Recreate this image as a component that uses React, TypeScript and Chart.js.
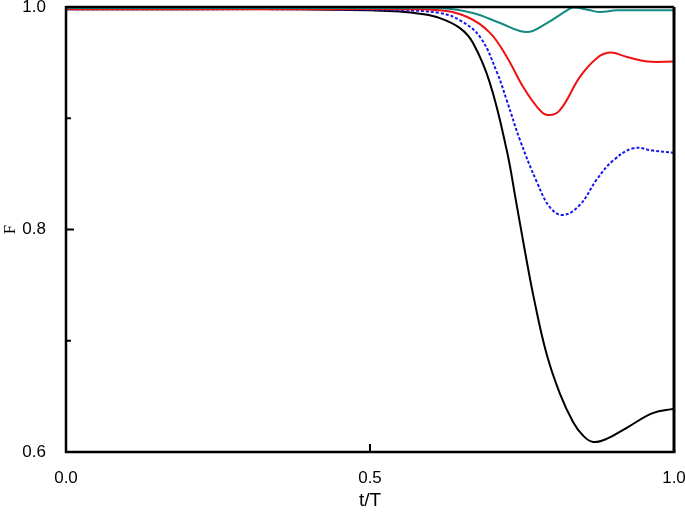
import React, { useEffect, useRef } from "react";
import { Chart, registerables } from "chart.js";

Chart.register(...registerables);

const blackX = [0, 0.2, 0.385, 0.5, 0.549, 0.582, 0.615, 0.648, 0.669, 0.697, 0.725, 0.74, 0.755, 0.77, 0.79, 0.812, 0.834, 0.85, 0.867, 0.89, 0.923, 0.965, 1.0];
const blackY = [0.998, 0.998, 0.998, 0.997, 0.996, 0.994, 0.99, 0.981, 0.968, 0.932, 0.871, 0.826, 0.78, 0.737, 0.689, 0.653, 0.627, 0.615, 0.609, 0.612, 0.622, 0.635, 0.639];

const blueX = [0, 0.2, 0.385, 0.549, 0.615, 0.648, 0.681, 0.709, 0.725, 0.747, 0.775, 0.796, 0.817, 0.845, 0.873, 0.9, 0.933, 0.965, 1.0];
const blueY = [0.998, 0.998, 0.998, 0.997, 0.9946, 0.988, 0.973, 0.941, 0.916, 0.88, 0.842, 0.82, 0.813, 0.822, 0.845, 0.862, 0.873, 0.871, 0.869];

const redX = [0, 0.2, 0.385, 0.549, 0.615, 0.66, 0.697, 0.725, 0.752, 0.775, 0.791, 0.812, 0.845, 0.873, 0.895, 0.923, 0.956, 1.0];
const redY = [0.998, 0.998, 0.998, 0.998, 0.997, 0.991, 0.977, 0.955, 0.928, 0.91, 0.903, 0.907, 0.937, 0.954, 0.959, 0.955, 0.951, 0.951];

const tealX = [0, 0.2, 0.385, 0.549, 0.615, 0.669, 0.714, 0.758, 0.791, 0.824, 0.834, 0.862, 0.878, 0.906, 0.944, 1.0];
const tealY = [0.999, 0.999, 0.999, 0.999, 0.999, 0.9946, 0.9856, 0.9775, 0.9856, 0.997, 0.9995, 0.997, 0.9955, 0.997, 0.997, 0.997];

const xTicks = [0, 0.5, 1.0];
const yTicks = [0.6, 0.8, 1.0];
const yMinorTicks = [0.7, 0.9];

const toPts = (xs: number[], ys: number[]) => xs.map((x, i) => ({ x, y: ys[i] }));

const framePlugin = {
  id: "frame",
  afterDraw(chart: any) {
    const { ctx, chartArea: a, scales } = chart;
    ctx.save();
    ctx.strokeStyle = "#000";
    ctx.lineWidth = 2.5;
    ctx.beginPath();
    ctx.moveTo(a.left, a.top);
    ctx.lineTo(a.right, a.top);
    ctx.stroke();
    ctx.lineWidth = 3;
    ctx.beginPath();
    ctx.moveTo(a.right, a.top);
    ctx.lineTo(a.right, a.bottom);
    ctx.stroke();
    ctx.lineWidth = 2.5;
    ctx.beginPath();
    ctx.moveTo(a.left, a.top - 1);
    ctx.lineTo(a.left, a.bottom);
    ctx.lineTo(a.right + 1.5, a.bottom);
    ctx.stroke();
    ctx.lineWidth = 2;
    xTicks.forEach((v) => {
      const px = scales.x.getPixelForValue(v);
      ctx.beginPath();
      ctx.moveTo(px, a.bottom);
      ctx.lineTo(px, a.bottom - 8);
      ctx.stroke();
    });
    yTicks.forEach((v) => {
      const py = scales.y.getPixelForValue(v);
      ctx.beginPath();
      ctx.moveTo(a.left, py);
      ctx.lineTo(a.left + 8, py);
      ctx.stroke();
    });
    yMinorTicks.forEach((v) => {
      const py = scales.y.getPixelForValue(v);
      ctx.beginPath();
      ctx.moveTo(a.left, py);
      ctx.lineTo(a.left + 5, py);
      ctx.stroke();
    });
    ctx.restore();
  },
};

export default function App() {
  const ref = useRef<HTMLCanvasElement>(null);
  useEffect(() => {
    document.body.style.margin = "0";
    const common = {
      fill: false,
      pointRadius: 0,
      borderWidth: 2,
      tension: 0.4,
    };
    const chart = new Chart(ref.current!, {
      type: "line",
      data: {
        datasets: [
          { ...common, data: toPts(tealX, tealY), borderColor: "#128a82" },
          { ...common, data: toPts(redX, redY), borderColor: "#ee1111" },
          { ...common, data: toPts(blueX, blueY), borderColor: "#1515ee", borderDash: [3, 2] },
          { ...common, data: toPts(blackX, blackY), borderColor: "#000000" },
        ],
      },
      options: {
        animation: false,
        responsive: false,
        layout: { padding: { top: 7, right: 11, left: 0, bottom: 0 } },
        plugins: { legend: { display: false }, tooltip: { enabled: false } },
        scales: {
          x: {
            type: "linear",
            min: 0,
            max: 1,
            grid: { display: false },
            border: { display: false },
            afterBuildTicks: (s: any) => {
              s.ticks = xTicks.map((v) => ({ value: v }));
            },
            ticks: {
              color: "#000",
              padding: 8,
              font: { family: "Liberation Sans", size: 17 },
              callback: (v: any) => Number(v).toFixed(1),
              maxRotation: 0,
            },
            title: {
              display: true,
              text: "t/T",
              color: "#000",
              font: { family: "Liberation Sans", size: 19, lineHeight: 1.2 },
              padding: { top: 4, bottom: 0 },
            },
            afterFit: (s: any) => {
              s.height = 60;
              s.paddingLeft = 0;
              s.paddingRight = 0;
            },
          },
          y: {
            type: "linear",
            min: 0.6,
            max: 1.0,
            grid: { display: false },
            border: { display: false },
            afterBuildTicks: (s: any) => {
              s.ticks = yTicks.map((v) => ({ value: v }));
            },
            ticks: {
              color: "#000",
              padding: 12,
              font: { family: "Liberation Sans", size: 17 },
              callback: (v: any) => Number(v).toFixed(1),
            },
            title: {
              display: true,
              text: "F",
              color: "#000",
              font: { family: "Liberation Serif", size: 17 },
              padding: { bottom: 0, top: 0 },
            },
            afterFit: (s: any) => {
              s.width = 66;
              s.paddingTop = 0;
              s.paddingBottom = 0;
            },
          },
        },
      },
      plugins: [framePlugin],
    });
    return () => chart.destroy();
  }, []);
  return <canvas ref={ref} width={685} height={512} style={{ display: "block" }} />;
}
